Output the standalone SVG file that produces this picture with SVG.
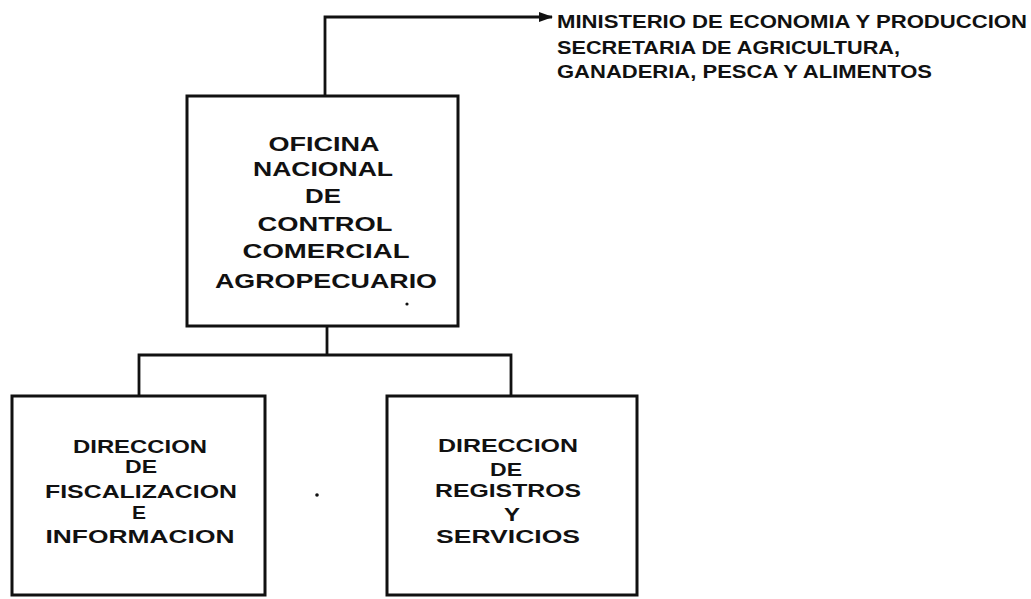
<svg xmlns="http://www.w3.org/2000/svg" width="1031" height="599" viewBox="0 0 1031 599">
<style>
.box{fill:#fff;stroke:#111;stroke-width:3}
.ln{fill:none;stroke:#111;stroke-width:2.8}
.t{font-family:"Liberation Sans",Arial,sans-serif;font-weight:bold;fill:#111;text-anchor:middle}
.big{font-size:21px}
.sm{font-size:18px}
.hd{font-family:"Liberation Sans",Arial,sans-serif;font-weight:bold;fill:#111;font-size:18px}
</style>
<defs>
<marker id="arr" markerWidth="14" markerHeight="10" refX="13" refY="5" orient="auto" markerUnits="userSpaceOnUse">
<path d="M0,0 L14,5 L0,10 Z" fill="#111"/>
</marker>
</defs>
<g id="connectors">
<path class="ln" d="M325,96 L325,17 L552,17" marker-end="url(#arr)"/>
<path class="ln" d="M327,326 L327,355"/>
<path class="ln" d="M139,396 L139,355 L511,355 L511,396"/>
</g>
<g id="ministerio">
<text class="hd" x="557" y="28" textLength="470" lengthAdjust="spacingAndGlyphs">MINISTERIO DE ECONOMIA Y PRODUCCION</text>
<text class="hd" x="557" y="54" textLength="343" lengthAdjust="spacingAndGlyphs">SECRETARIA DE AGRICULTURA,</text>
<text class="hd" x="557" y="78" textLength="375" lengthAdjust="spacingAndGlyphs">GANADERIA, PESCA Y ALIMENTOS</text>
</g>
<g id="oficina">
<rect class="box" x="187" y="96" width="271" height="230"/>
<text class="t big" x="324" y="151" textLength="111" lengthAdjust="spacingAndGlyphs">OFICINA</text>
<text class="t big" x="323" y="176" textLength="140" lengthAdjust="spacingAndGlyphs">NACIONAL</text>
<text class="t big" x="323" y="203" textLength="36" lengthAdjust="spacingAndGlyphs">DE</text>
<text class="t big" x="325" y="231" textLength="135" lengthAdjust="spacingAndGlyphs">CONTROL</text>
<text class="t big" x="326" y="258" textLength="167" lengthAdjust="spacingAndGlyphs">COMERCIAL</text>
<text class="t big" x="326" y="288" textLength="222" lengthAdjust="spacingAndGlyphs">AGROPECUARIO</text>
<circle cx="407" cy="304" r="1.6" fill="#111"/>
</g>
<g id="fiscalizacion">
<rect class="box" x="12" y="396" width="253" height="199"/>
<text class="t sm" x="140" y="453" textLength="134" lengthAdjust="spacingAndGlyphs">DIRECCION</text>
<text class="t sm" x="141" y="473" textLength="32" lengthAdjust="spacingAndGlyphs">DE</text>
<text class="t sm" x="141" y="498" textLength="192" lengthAdjust="spacingAndGlyphs">FISCALIZACION</text>
<text class="t sm" x="139" y="519" textLength="14" lengthAdjust="spacingAndGlyphs">E</text>
<text class="t sm" x="140" y="543" textLength="189" lengthAdjust="spacingAndGlyphs">INFORMACION</text>
</g>
<circle cx="317" cy="495" r="1.8" fill="#111"/>
<g id="registros">
<rect class="box" x="387" y="396" width="250" height="199"/>
<text class="t sm" x="508" y="452" textLength="140" lengthAdjust="spacingAndGlyphs">DIRECCION</text>
<text class="t sm" x="506" y="476" textLength="32" lengthAdjust="spacingAndGlyphs">DE</text>
<text class="t sm" x="508" y="497" textLength="146" lengthAdjust="spacingAndGlyphs">REGISTROS</text>
<text class="t sm" x="512" y="521" textLength="16" lengthAdjust="spacingAndGlyphs">Y</text>
<text class="t sm" x="508" y="543" textLength="144" lengthAdjust="spacingAndGlyphs">SERVICIOS</text>
</g>
</svg>
